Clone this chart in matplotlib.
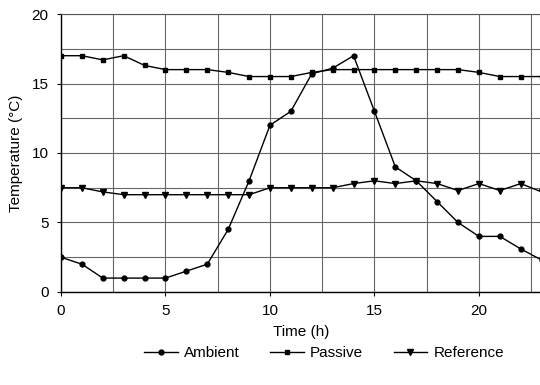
import matplotlib
matplotlib.use("Agg")
import matplotlib.pyplot as plt
import numpy as np

hours = list(range(24))
ambient = [2.5, 2.0, 1.0, 1.0, 1.0, 1.0, 1.5, 2.0, 4.5, 8.0, 12.0, 13.0,
           15.7, 16.1, 17.0, 13.0, 9.0, 8.0, 6.5, 5.0, 4.0, 4.0, 3.1, 2.3]
passive = [17.0, 17.0, 16.7, 17.0, 16.3, 16.0, 16.0, 16.0, 15.8, 15.5, 15.5, 15.5,
           15.8, 16.0, 16.0, 16.0, 16.0, 16.0, 16.0, 16.0, 15.8, 15.5, 15.5, 15.5]
reference = [7.5, 7.5, 7.2, 7.0, 7.0, 7.0, 7.0, 7.0, 7.0, 7.0, 7.5, 7.5,
             7.5, 7.5, 7.8, 8.0, 7.8, 8.0, 7.8, 7.3, 7.8, 7.3, 7.8, 7.2]
xticks = [0, 5, 10, 15, 20]
yticks = [0, 5, 10, 15, 20]

plt.rcParams['font.family'] = ['Liberation Sans', 'DejaVu Sans']

fig = plt.figure(figsize=(5.4, 3.85), dpi=100)
ax = fig.add_axes([0.113, 0.2416, 0.89, 0.722])

lw = 1.0
ax.plot(hours, ambient, color='black', lw=lw, marker='o', ms=3.5, label='Ambient')
ax.plot(hours, passive, color='black', lw=lw, marker='s', ms=3.5, label='Passive')
ax.plot(hours, reference, color='black', lw=lw, marker='v', ms=4.5, label='Reference')

ax.set_xlim(0, 23)
ax.set_ylim(0, 20)
ax.set_xticks(xticks)
ax.set_yticks(yticks)
ax.set_xticks(np.arange(0, 23.1, 2.5), minor=True)
ax.set_yticks(np.arange(0, 20.1, 2.5), minor=True)
ax.set_axisbelow(True)
ax.grid(which='both', color='#666666', lw=0.8, ls='-')
ax.tick_params(which='minor', length=0)
ax.tick_params(which='major', length=3, labelsize=11, colors='black', pad=6)
ax.spines['right'].set_visible(False)
ax.spines['top'].set_color('#555555')
ax.spines['left'].set_lw(1.0)
ax.spines['bottom'].set_lw(1.0)

ax.set_xlabel('Time (h)', fontsize=11, labelpad=5)
ax.set_ylabel('Temperature (°C)', fontsize=11, labelpad=6)

fig.legend(loc='center', bbox_to_anchor=(0.6, 0.082), ncol=3, frameon=False,
           fontsize=11, handlelength=2.2, columnspacing=2.0, handletextpad=0.4)

fig.savefig('out.png', dpi=100)
